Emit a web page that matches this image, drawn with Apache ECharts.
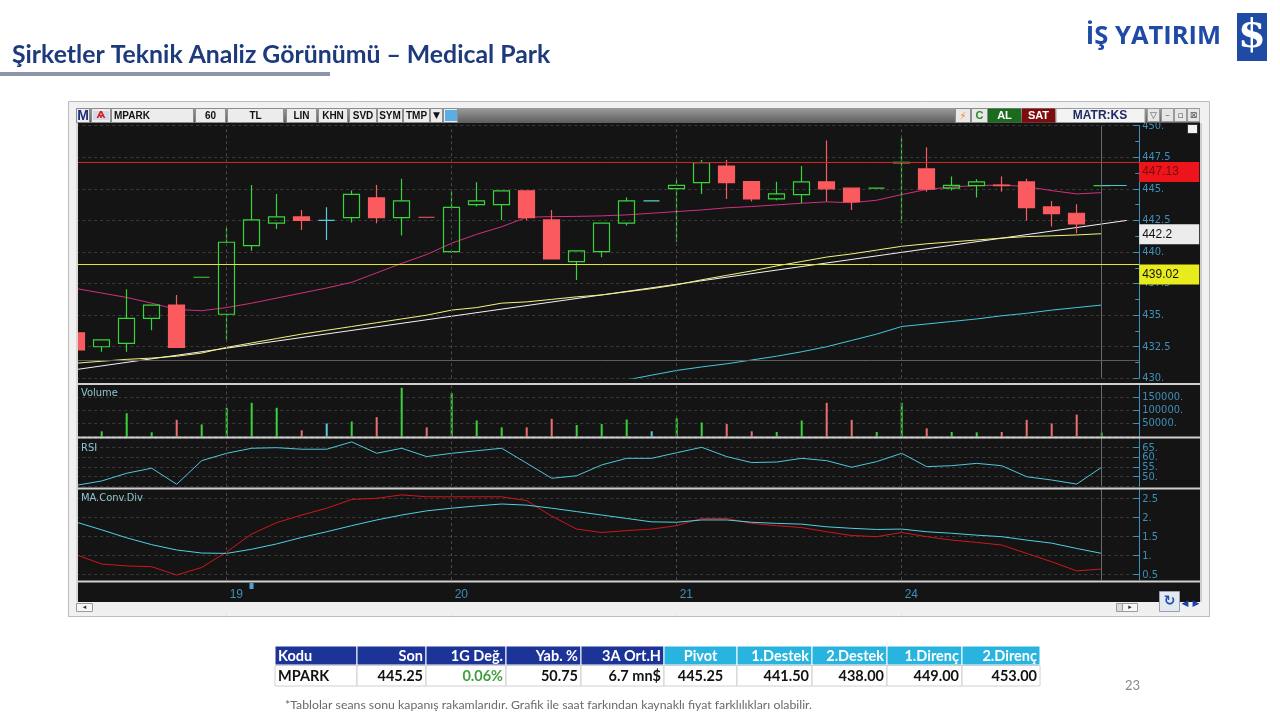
<!DOCTYPE html>
<html><head><meta charset="utf-8">
<script src="https://cdn.jsdelivr.net/npm/echarts@6/dist/echarts.min.js"></script>
<style>html,body{margin:0;padding:0;background:#fff;}#c{width:1280px;height:720px;}</style>
</head><body><div id="c"></div>
<script>
// ---------------- DATA ----------------
const categories = [
 '18 13','18 14','18 15','18 16','18 17','18 18',
 '19 10','19 11','19 12','19 13','19 14','19 15','19 16','19 17','19 18',
 '20 10','20 11','20 12','20 13','20 14','20 15','20 16','20 17','20 18',
 '21 10','21 11','21 12','21 13','21 14','21 15','21 16','21 17','21 18',
 '24 10','24 11','24 12','24 13','24 14','24 15','24 16','24 17','24 18',
 ' '
];
const dayStarts = ['19 10','20 10','21 10','24 10'];
const dayLabels = ['19','20','21','24'];
// [open, close, low, high]
const candles = [
 [433.6,432.25,432.2,433.7],[432.5,433.05,432.1,433.05],[432.77,434.75,432.1,437.05],[434.75,435.8,433.8,435.8],
 [435.8,432.45,432.45,436.6],[438.0,438.0,438.0,438.0],[435.07,440.77,433.05,441.9],[440.5,442.55,440.1,445.3],
 [442.28,442.78,441.83,444.6],[442.78,442.5,441.75,443.33],[442.5,442.5,440.95,443.55],[442.72,444.57,442.33,444.86],
 [444.28,442.72,442.28,445.31],[442.72,444.04,441.3,445.79],[442.75,442.75,442.75,442.75],[440.03,443.54,439.95,444.84],
 [443.75,444.04,443.6,445.52],[443.75,444.84,442.54,444.84],[444.84,442.72,442.49,444.84],[442.54,439.45,439.45,443.33],
 [439.24,440.09,437.79,440.09],[440.03,442.28,439.58,442.28],[442.28,444.04,442.09,444.31],[444.04,444.04,444.04,444.04],
 [445.02,445.28,440.82,445.76],[445.5,447.08,444.6,447.29],[446.81,445.5,444.2,447.29],[445.57,444.2,443.99,445.57],
 [444.2,444.6,444.1,445.57],[444.55,445.55,443.86,446.81],[445.55,445.0,443.99,448.82],[445.05,443.99,443.33,445.05],
 [445.05,445.05,445.05,445.05],[447.05,447.1,442.28,449.0],[446.58,444.97,444.78,448.29],[445.05,445.28,444.86,445.97],
 [445.26,445.55,444.31,445.76],[445.3,445.26,444.78,445.97],[445.55,443.52,442.49,445.79],[443.57,443.04,442.01,444.04],
 [443.07,442.22,441.48,443.78],[445.25,445.25,445.25,445.25]
];
const maPink = [437.1,436.75,436.4,435.95,435.45,435.35,435.6,435.95,436.35,436.75,437.15,437.6,438.35,439.1,439.8,440.7,
 441.4,442.0,442.75,442.8,442.82,442.86,442.94,443.07,443.2,443.33,443.5,443.6,443.73,443.86,443.97,443.9,444.1,444.55,
 444.95,445.15,445.26,445.3,445.18,444.86,444.6,444.7];
const maYellow = [431.2,431.35,431.5,431.6,431.75,432.0,432.45,432.8,433.15,433.5,433.8,434.1,434.4,434.7,435.0,435.4,
 435.6,435.95,436.05,436.25,436.45,436.6,436.85,437.1,437.4,437.8,438.15,438.5,438.9,439.25,439.6,439.85,440.15,440.45,
 440.65,440.8,440.95,441.1,441.22,441.28,441.35,441.45];
const maCyan = [null,null,null,null,null,null,null,null,null,null,null,null,null,null,null,null,null,null,null,null,null,
 429.5,429.87,430.25,430.62,430.9,431.15,431.45,431.75,432.1,432.5,433.0,433.5,434.1,434.3,434.5,434.7,434.95,435.15,
 435.4,435.6,435.8];
const trendWhite = [430.7, 442.5];   // start (first bar) and end (right edge) of trend line
const resistance = 447.13;
const support = 439.02;
const crossPrice = 431.45;
const lastPrice = 445.25;
const volume = [null,20000,89400,16000,64000,46500,110600,129500,110600,23800,50200,57800,74300,187500,35100,167200,
 61500,35100,35100,67900,44100,47800,65400,20000,70500,54000,47800,20000,17600,61500,129500,64000,17600,129500,31400,
 17600,16000,17600,64000,50200,84200,15000];
const rsi = [45.6,47.8,51.8,54.4,46.1,58.3,62.1,64.7,65.0,64.2,64.2,68.0,62.1,64.7,60.4,62.1,63.4,64.7,57.0,49.2,50.5,
 56.1,59.5,59.5,62.4,65.2,60.4,57.3,57.6,59.5,58.3,54.9,57.8,62.1,55.2,55.7,56.9,55.7,50.0,48.3,46.2,54.9];
const macd = [1.02,0.78,0.73,0.71,0.49,0.69,1.10,1.57,1.87,2.07,2.25,2.48,2.51,2.6,2.55,2.55,2.55,2.55,2.45,2.04,1.70,
 1.61,1.66,1.70,1.79,1.98,1.98,1.85,1.79,1.74,1.63,1.53,1.50,1.61,1.50,1.41,1.35,1.28,1.06,0.84,0.60,0.65];
const macdSignal = [1.88,1.68,1.47,1.29,1.15,1.07,1.06,1.17,1.31,1.48,1.63,1.79,1.94,2.07,2.18,2.25,2.31,2.36,2.33,2.25,
 2.16,2.07,1.98,1.89,1.88,1.94,1.94,1.88,1.85,1.83,1.76,1.72,1.69,1.70,1.63,1.59,1.54,1.50,1.41,1.33,1.19,1.06];
const priceTicks = [430,450,2.5];
const volTicks = [0,200000,50000];
const rsiTicks = [45,70,5];
const macdTicks = [0.5,1,1.5,2,2.5];
const tableHeader = ['Kodu','Son','1G Değ.','Yab. %','3A Ort.H','Pivot','1.Destek','2.Destek','1.Direnç','2.Direnç'];
const tableRow = ['MPARK','445.25','0.06%','50.75','6.7 mn$','445.25','441.50','438.00','449.00','453.00'];
const titleText = 'Şirketler Teknik Analiz Görünümü – Medical Park';
const footText = '*Tablolar seans sonu kapanış rakamlarıdır. Grafik ile saat farkından kaynaklı fiyat farklılıkları olabilir.';
const pageNo = '23';

// ---------------- STYLE / LAYOUT ----------------
const UP = '#38d43a', DOWN = '#fb5a5f', FLAT = '#5cc9da';
const VUP = '#3ad23c', VDOWN = '#ec6f72';
const TEAL = '#3f8fb8';
const GRIDC = '#3a3a3a';
const PANEL = '#141414';
const FRAME = '#f1f1f1';
const NARROW = "'Liberation Sans Narrow','DejaVu Sans Condensed','Liberation Sans',sans-serif";
const L = 64.2, RX = 1139.2, R = 1280 - RX;

function dirOf(i){
  const o = candles[i][0], c = candles[i][1];
  if (c > o) return 1; if (c < o) return -1;
  if (i === 0) return 0;
  const pc = candles[i-1][1];
  return c > pc ? 1 : (c < pc ? -1 : 0);
}
const candleData = candles.map((d,i)=>{
  if (d[0] !== d[1]) return d;
  const s = dirOf(i), col = s>0?UP:(s<0?DOWN:FLAT);
  return {value:d, itemStyle:{color:col,color0:col,borderColor:col,borderColor0:col,borderColorDoji:col}};
});
const volData = volume.map((v,i)=>{
  const s = dirOf(i);
  return {value:v, itemStyle:{color: s>0?VUP:(s<0?VDOWN:FLAT)}};
});
const trendData = categories.map((c,i)=> i===0 ? trendWhite[0] : (i===categories.length-1 ? trendWhite[1] : null));
const lastIdx = candles.length - 1;
const trendAtLast = +(trendWhite[0] + (trendWhite[1]-trendWhite[0]) * lastIdx / (categories.length-1)).toFixed(1);
const fmtDot = v => (Math.round(v) === v ? v + '.' : String(v));

const dayLines = dayStarts.map(d => ({xAxis:d, lineStyle:{color:'#4a4a4a', type:[3,3], width:1}}));
const cursorLine = {xAxis: categories[lastIdx], lineStyle:{color:'#6a6a6a', type:'solid', width:1}};
function vLines(){ return {silent:true, symbol:'none', animation:false, label:{show:false}, data: dayLines.concat([cursorLine])}; }

function boxLabel(bg, fg, txt){
  return {show:true, position:'end', distance:0, formatter: txt, backgroundColor:bg, color:fg,
    fontFamily:'Liberation Sans, Arial, sans-serif', fontSize:12, padding:[4,3,2,3], width:54, height:14,
    align:'left', verticalAlign:'top'};
}

function yAxisBase(grid, extra){
  return Object.assign({
    type:'value', gridIndex:grid, position:'right', scale:true,
    axisLine:{show:true, lineStyle:{color:TEAL, width:1}},
    axisTick:{show:true, inside:true, length:6, lineStyle:{color:TEAL}},
    axisLabel:{color:TEAL, fontSize:11, fontFamily:NARROW, margin:3, formatter: fmtDot},
    splitLine:{show:true, lineStyle:{color:GRIDC, type:[3,3], width:1}}
  }, extra);
}

const grids = [
  {left:L, right:R, top:125.7, height:252.6},
  {left:L, right:R, top:384.5, height:52},
  {left:L, right:R, top:438, height:48.4},
  {left:L, right:R, top:489, height:91},
  {left:L, right:R, top:582, height:20}
];
const xAxes = grids.map((g,i)=>({type:'category', gridIndex:i, data:categories, boundaryGap:true, show:i===4,
  position:'top', axisLine:{show:false},
  axisTick:{show:i===4, inside:true, length:20, alignWithLabel:true, interval:(idx,val)=>dayStarts.indexOf(val)>=0, lineStyle:{color:'#e6e6e6'}},
  axisLabel:{show:i===4, inside:true, margin:7, align:'left', padding:[0,0,0,3], color:TEAL, fontSize:12, fontFamily:'Liberation Sans, Arial, sans-serif',
    interval:(idx,val)=>dayStarts.indexOf(val)>=0, formatter:(val)=>{const k=dayStarts.indexOf(val); return k>=0?dayLabels[k]:'';}},
  splitLine:{show:false}}));

const yAxes = [
  yAxisBase(0,{min:priceTicks[0], max:priceTicks[1], interval:priceTicks[2], minorTick:{show:true, splitNumber:2, length:4, lineStyle:{color:TEAL}}, minorSplitLine:{show:false}}),
  yAxisBase(1,{min:volTicks[0], max:volTicks[1], interval:volTicks[2], axisLabel:{color:TEAL, fontSize:11, fontFamily:NARROW, margin:3, formatter:fmtDot, showMinLabel:false, showMaxLabel:false}}),
  yAxisBase(2,{min:rsiTicks[0], max:rsiTicks[1], interval:rsiTicks[2], axisLabel:{color:TEAL, fontSize:11, fontFamily:NARROW, margin:3, formatter:fmtDot, showMaxLabel:false}}),
  yAxisBase(3,{min:0.36, max:2.755, axisTick:{show:true, inside:true, length:6, lineStyle:{color:TEAL}, customValues:macdTicks},
     axisLabel:{color:TEAL, fontSize:11, fontFamily:NARROW, margin:3, formatter:fmtDot, customValues:macdTicks}}),
  {type:'value', gridIndex:4, show:false}
];

const series = [
  {type:'line', name:'trend', xAxisIndex:0, yAxisIndex:0, data:trendData, connectNulls:true, showSymbol:false, silent:true,
   lineStyle:{color:'#f2f2f2', width:1}, z:3},
  {type:'line', name:'maY', xAxisIndex:0, yAxisIndex:0, data:maYellow, showSymbol:false, silent:true, lineStyle:{color:'#f4f47c', width:1}, z:3},
  {type:'line', name:'maC', xAxisIndex:0, yAxisIndex:0, data:maCyan, showSymbol:false, silent:true, lineStyle:{color:'#45c8da', width:1}, z:3},
  {type:'line', name:'maP', xAxisIndex:0, yAxisIndex:0, data:maPink, showSymbol:false, silent:true, lineStyle:{color:'#d0307e', width:1}, z:3},
  {type:'candlestick', name:'MPARK', xAxisIndex:0, yAxisIndex:0, data:candleData, barWidth:17, silent:true, z:4,
   itemStyle:{color:'rgba(0,0,0,0)', color0:DOWN, borderColor:UP, borderColor0:DOWN, borderWidth:1.2},
   markLine:{silent:true, symbol:'none', animation:false, label:{show:false},
     data: dayLines.concat([cursorLine,
       {yAxis:crossPrice, lineStyle:{color:'#5e5e5e', type:'solid', width:1}},
       {yAxis:resistance, lineStyle:{color:'#d42424', type:'solid', width:1}, label: boxLabel('#ee141c','#7a0a0a', String(resistance))},
       {yAxis:support, lineStyle:{color:'#e4e42a', type:'solid', width:1}, label: boxLabel('#e8ec1c','#111', String(support))},
       {yAxis:trendAtLast, lineStyle:{color:'rgba(0,0,0,0)', type:'solid', width:1}, label: boxLabel('#ececec','#111', trendAtLast.toFixed(1))},
       [{coord:[categories[lastIdx], lastPrice], lineStyle:{color:'#45c8da', type:'solid', width:1}}, {coord:[categories[lastIdx+1], lastPrice]}]
     ])}},
  {type:'bar', name:'Volume', xAxisIndex:1, yAxisIndex:1, data:volData, barWidth:2, silent:true, markLine:vLines()},
  {type:'line', name:'RSI', xAxisIndex:2, yAxisIndex:2, data:rsi, showSymbol:false, silent:true, lineStyle:{color:'#4ec8da', width:1}, markLine:vLines()},
  {type:'line', name:'MACD', xAxisIndex:3, yAxisIndex:3, data:macd, showSymbol:false, silent:true, lineStyle:{color:'#d0161e', width:1}, markLine:vLines()},
  {type:'line', name:'Signal', xAxisIndex:3, yAxisIndex:3, data:macdSignal, showSymbol:false, silent:true, lineStyle:{color:'#50d0e2', width:1}}
];

// ---------------- DECORATION ----------------
const G = [];
function rect(x,y,w,h,fill,stroke,z,lw){ G.push({type:'rect', shape:{x,y,width:w,height:h}, style:{fill, stroke:stroke||null, lineWidth:lw||1}, z:z||0, silent:true}); }
function txt(x,y,t,font,fill,align,z,vAlign){ G.push({type:'text', x, y, style:{text:t, font, fill, align:align||'left', verticalAlign:vAlign||'middle'}, z:z||10, silent:true}); }
function line(x1,y1,x2,y2,stroke,lw,z){ G.push({type:'line', shape:{x1,y1,x2,y2}, style:{stroke, lineWidth:lw||1}, z:z||10, silent:true}); }

// header
txt(12, 55, titleText, "bold 24.8px Lato, 'Open Sans', sans-serif", '#1d3a7c', 'left', 10);
rect(0, 72, 330, 4, '#8d96a8', null, 10);
txt(1221, 37, 'İŞ YATIRIM', "bold 25.5px 'Open Sans', Lato, sans-serif", '#1f4aa6', 'right', 10);
rect(1237, 13, 30, 48, '#1f4aa6', null, 10);
txt(1252, 37, '$', "bold 40px 'DejaVu Serif', serif", '#ffffff', 'center', 11);

// chart window
rect(68.5, 101.5, 1141, 515, FRAME, '#bdbdbd', -20);
rect(78, 123, 1122, 479, PANEL, null, -10);
// covers around the window
rect(50, 110, 18, 500, '#ffffff', null, 50);
rect(68.6, 123, 8.4, 479, FRAME, null, 50);
rect(60, 617.2, 1160, 25, '#ffffff', null, 50);
line(68.5, 101.5, 68.5, 616.5, '#bdbdbd', 1, 51);
line(68.5, 616.5, 1209.5, 616.5, '#bdbdbd', 1, 51);
// separators
[383.5, 437, 488, 581].forEach(y=>rect(76, y-0.5, 1126, 2, '#cfcfcf', null, 52));
rect(1200, 123, 2, 479, '#cfcfcf', null, 52);
rect(76, 123, 2, 479, '#d8d8d8', null, 52);
// toolbar
G.push({type:'rect', shape:{x:76,y:108,width:1124,height:15}, style:{fill:new echarts.graphic.LinearGradient(0,0,0,1,[{offset:0,color:'#9c9c9c'},{offset:1,color:'#5d5d5d'}])}, z:60, silent:true});
const tb = [[76,90,'M'],[91,111,''],[111,194,'MPARK'],[195,226,'60'],[227,284,'TL'],[286,317,'LIN'],[318,348,'KHN'],[349,377,'SVD'],[377,403,'SYM'],[403,430,'TMP'],[430,443,'▼'],[443,458,'']];
tb.forEach(([a,b,t])=>{ rect(a+0.5,108.5,b-a-1,14,'#ececec','#8c8c8c',61); });
txt(83, 116, 'M', "bold 14px 'Liberation Sans', Arial, sans-serif", '#1b2f7a', 'center', 62);
rect(93, 111, 16, 9, '#d8d8e8', null, 62); txt(101, 115.5, 'Ѧ', "bold 9px 'DejaVu Sans', sans-serif", '#d02020', 'center', 63);
txt(114, 116, 'MPARK', "bold 10px 'Liberation Sans', Arial, sans-serif", '#111', 'left', 62);
[[210.5,'60'],[255.5,'TL'],[301.5,'LIN'],[333,'KHN'],[363,'SVD'],[390,'SYM'],[416.5,'TMP']].forEach(([x,t])=>txt(x,116,t,"bold 10px 'Liberation Sans', Arial, sans-serif",'#111','center',62));
txt(436.5, 116, '▼', "9px 'DejaVu Sans', sans-serif", '#111', 'center', 62);
rect(445, 110, 12, 11, '#5aaee8', null, 62);
// right toolbar
rect(955.5,108.5,15,14,'#e8e8e8','#8c8c8c',61); txt(963,116,'⚡',"10px 'DejaVu Sans', sans-serif",'#f09010','center',62);
rect(971.5,108.5,16,14,'#e8e8e8','#8c8c8c',61); txt(979.5,116,'C',"bold 11px 'Liberation Sans', Arial, sans-serif",'#2a8a2a','center',62);
rect(988,108.5,33,14,'#1c6a1e',null,61); txt(1004.5,116,'AL',"bold 11px 'Liberation Sans', Arial, sans-serif",'#ffffff','center',62);
rect(1022,108.5,33,14,'#7e0c0c',null,61); txt(1038.5,116,'SAT',"bold 11px 'Liberation Sans', Arial, sans-serif",'#ffffff','center',62);
rect(1056,108.5,89,14,'#f3f3f3','#9a9a9a',61); txt(1100,116,'MATR:KS',"bold 12px 'Liberation Sans', Arial, sans-serif",'#1f2a66','center',62);
[[1147,'▽'],[1161,'–'],[1174,'▫'],[1187,'⊠']].forEach(([x,t])=>{ rect(x+0.5,108.5,12,13,'#e6e6e6','#9a9a9a',61); txt(x+6.5,115.5,t,"9px 'DejaVu Sans', sans-serif",'#555','center',62);});
rect(1187.5, 124.5, 10, 9, '#f2f2f2', '#333', 60);
// panel titles
txt(81, 393, 'Volume', "11px " + NARROW, '#8ec6d2', 'left', 55);
txt(81, 448, 'RSI', "11px " + NARROW, '#8ec6d2', 'left', 55);
txt(81, 498, 'MA.Conv.Div', "11px " + NARROW, '#8ec6d2', 'left', 55);
// bottom scroll bar
rect(76, 602, 1124, 11, '#efefef', null, 52);
rect(76.5, 603.5, 16, 8, '#f7f7f7', '#9a9a9a', 53); txt(84.5, 607.5, '◂', "7px 'DejaVu Sans', sans-serif", '#333', 'center', 54);
rect(1116.5, 603.5, 6, 8, '#dcdcdc', '#9a9a9a', 53); rect(1122.5, 603.5, 15, 8, '#f7f7f7', '#9a9a9a', 53); txt(1130, 607.5, '▸', "7px 'DejaVu Sans', sans-serif", '#333', 'center', 54);
rect(1159.5, 591.5, 20, 20, '#e4e8f0', '#9aa0b0', 53); txt(1169.5, 601.5, '↻', "bold 14px 'DejaVu Sans', sans-serif", '#2050b0', 'center', 54);
txt(1185, 604, '◀', "9px 'DejaVu Sans', sans-serif", '#1d3fa8', 'center', 54);
txt(1196, 604, '▶', "9px 'DejaVu Sans', sans-serif", '#1d3fa8', 'center', 54);
rect(249.5, 583, 4, 6, '#4aa3d0', null, 55);

// table
const colX = [275,357,426,506,581,664,737,812,887,962,1040];
for (let i=0;i<tableHeader.length;i++){
  const x0 = colX[i], x1 = colX[i+1];
  rect(x0, 646, x1-x0, 19, i<5 ? '#1c3397' : '#29b3df', '#ffffff', 60);
  rect(x0, 665.5, x1-x0, 20.5, '#ffffff', '#d0d0d0', 60);
  const al = i===0 ? 'left' : (i===5 ? 'center' : 'right');
  const tx = i===0 ? x0+3 : (i===5 ? (x0+x1)/2 : x1-3);
  txt(tx, 656, tableHeader[i], "bold 14.5px Lato, 'Open Sans', sans-serif", '#ffffff', al, 62);
  txt(tx, 676, tableRow[i], "bold 14.5px Lato, 'Open Sans', sans-serif", i===2 ? '#3f9e3f' : '#111111', al, 62);
}
txt(285, 705, footText, "12.3px Lato, 'Open Sans', sans-serif", '#6a6a6a', 'left', 62);
txt(1140, 686, pageNo, "13px Lato, 'Open Sans', sans-serif", '#8a8a8a', 'right', 62);

const chart = echarts.init(document.getElementById('c'), null, {renderer:'canvas', width:1280, height:720});
chart.setOption({
  backgroundColor:'#ffffff',
  animation:false,
  grid: grids,
  xAxis: xAxes,
  yAxis: yAxes,
  series: series,
  graphic: {elements: G}
});
</script>
</body></html>
